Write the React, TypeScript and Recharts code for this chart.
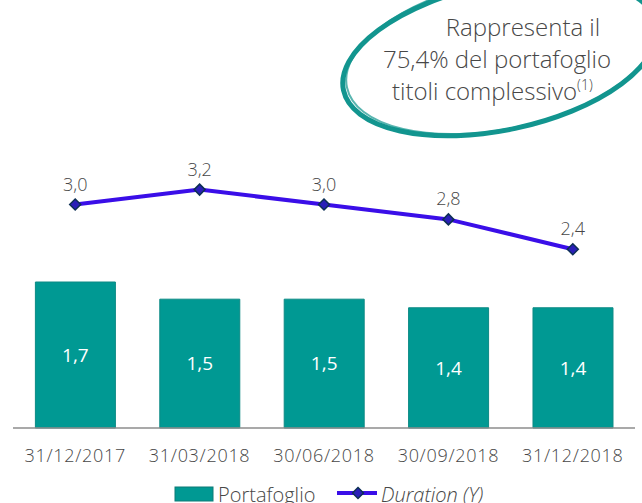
import React from 'react';
import { ComposedChart, Bar, Line, XAxis, YAxis, LabelList, Legend } from 'recharts';

const categories = ['31/12/2017', '31/03/2018', '30/06/2018', '30/09/2018', '31/12/2018'];
const portafoglio = [1.7, 1.5, 1.5, 1.4, 1.4];
const duration = [3.0, 3.2, 3.0, 2.8, 2.4];

const data = categories.map((c, i) => ({ name: c, portafoglio: portafoglio[i], duration: duration[i] }));

const TEAL = '#009993';
const LINE = '#3a0ee8';
const GRAY = '#474747';
const FONT = '"Open Sans", "DejaVu Sans", sans-serif';

const fmt = (v: any) => Number(v).toFixed(1).replace('.', ',');

const Diamond = (props: any) => {
  const { cx, cy } = props;
  if (cx == null || cy == null) return null;
  const r = 5.5;
  return (
    <path
      d={`M${cx},${cy - r} L${cx + r},${cy} L${cx},${cy + r} L${cx - r},${cy} Z`}
      fill="#2a1fb8"
      stroke="#0d2f55"
      strokeWidth={1.5}
    />
  );
};

const LegendContent = () => (
  <svg width={642} height={30} style={{ display: 'block' }}>
    <rect x={175} y={9} width={38} height={14} fill={TEAL} stroke="#0c7b77" strokeWidth={1} />
    <text x={218} y={24} fontFamily={FONT} fontWeight={300} fontSize={20} fill={GRAY}>Portafoglio</text>
    <line x1={337} y1={15} x2={377} y2={15} stroke={LINE} strokeWidth={4} />
    <path d="M358,9.5 L363.5,15 L358,20.5 L352.5,15 Z" fill="#2a1fb8" stroke="#0d2f55" strokeWidth={1.5} />
    <text x={381} y={24} fontFamily={FONT} fontWeight={300} fontSize={20} fontStyle="italic" fill={GRAY}>Duration (Y)</text>
  </svg>
);

export default function App() {
  return (
    <div style={{ position: 'fixed', left: 0, top: 0, width: 642, height: 503, background: '#fff', overflow: 'hidden' }}>
      <ComposedChart
        width={642}
        height={503}
        data={data}
        margin={{ top: 130, right: 7, left: 13, bottom: 0 }}
        barCategoryGap="18%"
      >
        <XAxis
          dataKey="name"
          height={75}
          axisLine={{ stroke: '#8c8c8c', strokeWidth: 1.5 }}
          tickLine={false}
          tick={{ fill: GRAY, fontSize: 18, fontFamily: FONT, fontWeight: 300, letterSpacing: 0.7 }}
          tickMargin={15}
          interval={0}
        />
        <YAxis yAxisId="bar" hide domain={[0, 3.47]} />
        <YAxis yAxisId="line" hide domain={[0, 4]} />
        <Bar yAxisId="bar" dataKey="portafoglio" name="Portafoglio" fill={TEAL} stroke="#0c8a85" strokeWidth={1} isAnimationActive={false}>
          <LabelList dataKey="portafoglio" position="center" formatter={fmt} fill="#ffffff" fontSize={19} fontWeight={400} fontFamily={FONT} />
        </Bar>
        <Line
          yAxisId="line"
          dataKey="duration"
          name="Duration (Y)"
          stroke={LINE}
          strokeWidth={4}
          dot={<Diamond />}
          activeDot={false}
          isAnimationActive={false}
        >
          <LabelList dataKey="duration" position="top" offset={14} formatter={fmt} fill={GRAY} fontSize={18} fontWeight={300} fontFamily={FONT} />
        </Line>
        <Legend
          verticalAlign="middle"
          align="center"
          wrapperStyle={{ top: 478, left: 0, width: 642 }}
          content={<LegendContent />}
        />
      </ComposedChart>
      <svg width={642} height={160} style={{ position: 'absolute', left: 0, top: 0 }}>
        <g transform="rotate(-12 500 57)">
          <ellipse cx={500} cy={57} rx={160} ry={73} fill="none" stroke="#12958f" strokeWidth={5} />
          <ellipse cx={502} cy={55} rx={158} ry={74} fill="none" stroke="#12958f" strokeWidth={2} opacity={0.7} />
        </g>
        <text x={523} y={36} textAnchor="middle" fontFamily={FONT} fontWeight={300} fontSize={24} fill={GRAY}>Rappresenta il</text>
        <text x={497} y={68} textAnchor="middle" fontFamily={FONT} fontWeight={300} fontSize={24} fill={GRAY}>75,4% del portafoglio</text>
        <text x={392} y={100} fontFamily={FONT} fontWeight={300} fontSize={24} fill={GRAY}>
          titoli complessivo
          <tspan fontSize={14} dy={-10}>(1)</tspan>
        </text>
      </svg>
    </div>
  );
}
